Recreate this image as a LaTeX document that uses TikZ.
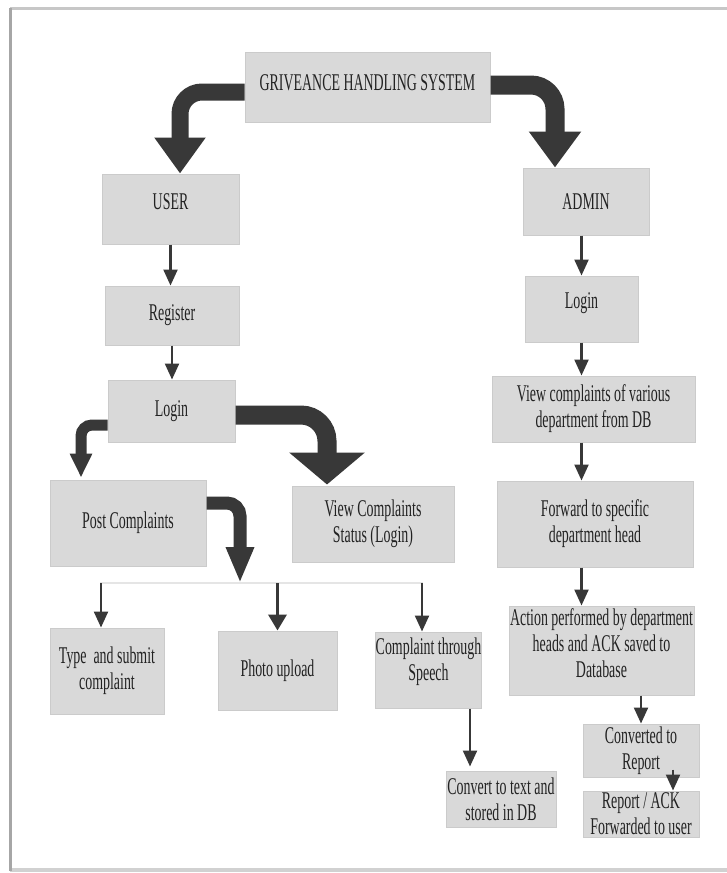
\documentclass[tikz,border=0pt]{standalone}
\usepackage{fontspec}
\setmainfont{Liberation Serif}[FakeStretch=0.58]
\usetikzlibrary{arrows.meta,calc}
\definecolor{boxfill}{HTML}{D9D9D9}
\definecolor{boxline}{HTML}{CBCBCB}
\definecolor{arrowc}{HTML}{383838}
\definecolor{txt}{HTML}{222222}
\begin{document}
\begin{tikzpicture}[x=1pt,y=-1pt,
  box/.style={draw=boxline, line width=1pt, fill=boxfill, inner sep=0pt, align=center, text=txt, font=\fontsize{24}{26}\selectfont},
  thinarrow/.style={draw=arrowc, line width=2.3pt, -{Triangle[width=14pt,length=16pt]}},
  midarrow/.style={draw=arrowc, line width=3.5pt, -{Triangle[width=18pt,length=16pt]}},
  fatarrow/.style={draw=arrowc, line cap=butt}
]
\useasboundingbox (0,0) rectangle (727,873);
\fill[white] (0,0) rectangle (727,873);
% frame
\draw[line width=3pt, draw=black!22] (10,8) -- (727,8);
\draw[line width=4pt, draw=black!18] (10,870) -- (727,870);
\draw[line width=3pt, draw=black!35] (10,8) -- (10,871);

% boxes
\node[box, minimum width=245pt, minimum height=70pt, text depth=8pt] (title) at (367.5,87) {GRIVEANCE HANDLING SYSTEM};
\node[box, minimum width=137pt, minimum height=70pt, text depth=14pt] (user) at (170.5,209) {USER};
\node[box, minimum width=126pt, minimum height=67pt] (admin) at (586,201.5) {ADMIN};
\node[box, minimum width=134pt, minimum height=59pt] (reg) at (172,315.5) {Register};
\node[box, minimum width=127pt, minimum height=62pt] (ulogin) at (171.5,411) {Login};
\node[box, minimum width=113pt, minimum height=66pt, text depth=17pt] (alogin) at (581.5,309) {Login};
\node[box, minimum width=203pt, minimum height=66pt] (viewdb) at (593.5,409) {View complaints of various\\department from DB};
\node[box, minimum width=196pt, minimum height=86pt] (fwd) at (595,524) {Forward to specific\\department head};
\node[box, minimum width=156pt, minimum height=86pt] (post) at (128,523) {Post Complaints};
\node[box, minimum width=162pt, minimum height=76pt] (status) at (373,524) {View Complaints\\Status (Login)};
\node[box, minimum width=114pt, minimum height=86pt] (type) at (107,671) {Type\ \ and submit\\complaint};
\node[box, minimum width=119pt, minimum height=79pt] (photo) at (277.5,670.5) {Photo upload};
\node[box, minimum width=105pt, minimum height=76pt, text depth=21pt] (speech) at (428.5,670) {Complaint through\\Speech};
\node[box, minimum width=110pt, minimum height=56pt] (convert) at (501,799) {Convert to text and\\stored in DB};
\node[box, minimum width=185pt, minimum height=89pt, text depth=14pt] (action) at (601.5,650.5) {Action performed by department\\heads and ACK saved to\\Database};
\node[box, minimum width=116pt, minimum height=53pt] (converted) at (641,750.5) {Converted to\\Report};
\node[box, minimum width=116pt, minimum height=46pt] (report) at (641,814) {Report / ACK\\Forwarded to user};

% coordinates
\coordinate (branch) at (240,583);
\coordinate (bl) at (101,583);
\coordinate (br) at (422,583);
\coordinate (sp) at ($(speech.south)+(41.5,0)$);

% branch line
\draw[black!10, line width=1.5pt] (100,583) -- (423,583);

% fat bent arrows
\draw[fatarrow, line width=17pt, rounded corners=22pt, -{Triangle[width=49pt,length=36pt]}]
  ($(title.west)+(0,5)$) -| ($(user.north)+(9.5,0)$);
\draw[fatarrow, line width=19pt, rounded corners=24pt, -{Triangle[width=50pt,length=36pt]}]
  ($(title.east)+(0,-2)$) -| ($(admin.north)+(-31,0)$);
\draw[fatarrow, line width=11pt, rounded corners=11pt, -{Triangle[width=21pt,length=24pt]}]
  ($(ulogin.west)+(0,14)$) -| ($(post.north)+(-47,-2)$);
\draw[fatarrow, line width=19pt, rounded corners=26pt, -{Triangle[width=74pt,length=32pt]}]
  ($(ulogin.east)+(0,4)$) -| ($(status.north)+(-46,-1)$);
\draw[fatarrow, line width=13pt, rounded corners=13pt, -{Triangle[width=26pt,length=36pt]}]
  ($(post.east)+(0,-20)$) -| (branch);

% thin arrows
\draw[thinarrow] (user.south) -- (user.south |- reg.north);
\draw[thinarrow] (reg.south) -- (reg.south |- ulogin.north);
\draw[thinarrow] (alogin.north |- admin.south) -- (alogin.north);
\draw[thinarrow] (alogin.south) -- (alogin.south |- viewdb.north);
\draw[thinarrow] (viewdb.south -| alogin) -- (fwd.north -| alogin);
\draw[thinarrow] (fwd.south -| alogin) -- (action.north -| alogin);
\draw[thinarrow] (converted.north |- action.south) -- (converted.north);
\draw[thinarrow] ($(converted.south)+(32,-8)$) -- ($(report.north)+(32,0)$);
\draw[thinarrow] (bl) -- (bl |- type.north);
\draw[midarrow] (photo.north |- branch) -- (photo.north);
\draw[thinarrow] (br) -- (br |- speech.north);
\draw[thinarrow] (sp) -- ($(sp |- convert.north)+(0,-4)$);
\end{tikzpicture}
\end{document}
